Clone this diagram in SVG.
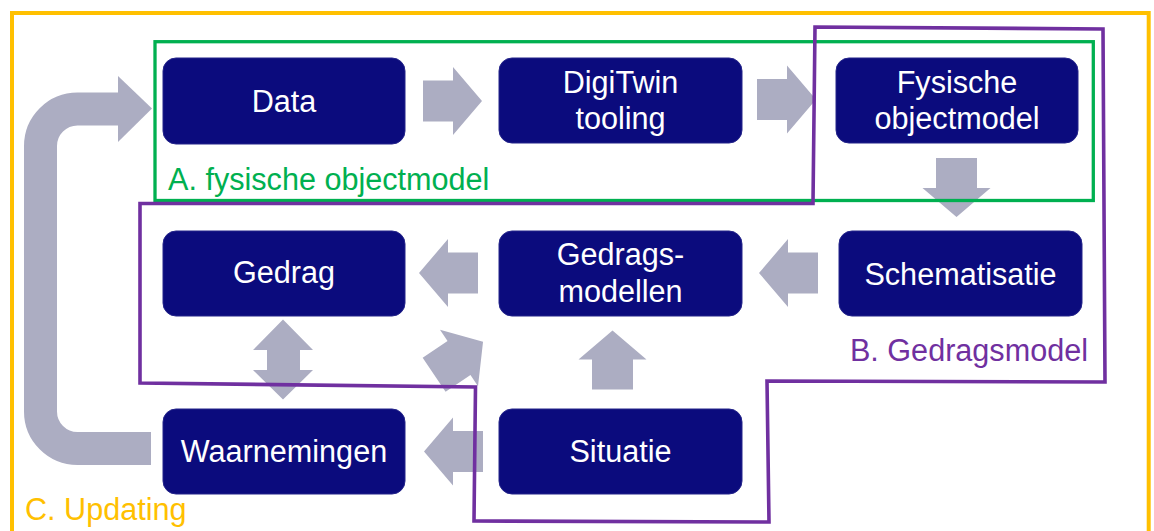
<svg xmlns="http://www.w3.org/2000/svg" width="1154" height="531" viewBox="0 0 1154 531">
  <defs>
    <style>
      .node { fill: #0B0B7D; stroke: #24248a; stroke-width: 1; }
      .nt { font-family: "Liberation Sans", Arial, sans-serif; font-size: 30.6px; fill: #FFFFFF; text-anchor: middle; }
      .arrow { fill: #ACADC2; }
      .lbl { font-family: "Liberation Sans", Arial, sans-serif; font-size: 30.6px; }
    </style>
    <path id="arr" d="M -30 -20.5 H 0 V -34 L 29 0 L 0 34 V 20.5 H -30 Z"/>
  </defs>
  <rect width="1154" height="531" fill="#FFFFFF"/>

  <!-- Frame C -->
  <rect x="12" y="13" width="1136.7" height="560" fill="none" stroke="#FFC000" stroke-width="4"/>

  <!-- Connectors -->
  <g id="connectors" class="arrow">
    <use href="#arr" transform="translate(453,101)"/>
    <use href="#arr" transform="translate(787,99.5)"/>
    <use href="#arr" transform="translate(956.5,188) rotate(90)"/>
    <use href="#arr" transform="translate(788,273) rotate(180)"/>
    <use href="#arr" transform="translate(448,273) rotate(180)"/>
    <use href="#arr" transform="translate(612.5,359.5) rotate(-90)"/>
    <use href="#arr" transform="translate(453,451.5) rotate(180)"/>
    <use href="#arr" transform="translate(459,358) rotate(-34)"/>
    <path d="M 283 319.5 L 313 350 H 300 V 370 H 313 L 283 399.5 L 253 370 H 267 V 350 H 253 Z"/>
    <path d="M 151 448.5 H 77.5 A 37 37 0 0 1 40.5 411.5 V 146 A 37 37 0 0 1 77.5 109 H 119" fill="none" stroke="#ACADC2" stroke-width="33"/>
    <path d="M 118 76 L 152 108.5 L 118 142 Z"/>
  </g>

  <!-- Nodes -->
  <g id="node-data">
    <rect class="node" x="163" y="58" width="242" height="86" rx="13"/>
    <text class="nt" x="284" y="112">Data</text>
  </g>
  <g id="node-digitwin">
    <rect class="node" x="499" y="58" width="243" height="85" rx="13"/>
    <text class="nt" x="620.5" y="93">DigiTwin</text>
    <text class="nt" x="620.5" y="129">tooling</text>
  </g>
  <g id="node-fysische">
    <rect class="node" x="836" y="58" width="242" height="85" rx="13"/>
    <text class="nt" x="957" y="93">Fysische</text>
    <text class="nt" x="957" y="129">objectmodel</text>
  </g>
  <g id="node-gedrag">
    <rect class="node" x="163" y="231" width="242" height="85" rx="13"/>
    <text class="nt" x="284" y="283">Gedrag</text>
  </g>
  <g id="node-gedragsmodellen">
    <rect class="node" x="499" y="231" width="243" height="85" rx="13"/>
    <text class="nt" x="620.5" y="265">Gedrags-</text>
    <text class="nt" x="620.5" y="302">modellen</text>
  </g>
  <g id="node-schematisatie">
    <rect class="node" x="839" y="231" width="243" height="85" rx="13"/>
    <text class="nt" x="960.5" y="285">Schematisatie</text>
  </g>
  <g id="node-waarnemingen">
    <rect class="node" x="163" y="409" width="242" height="85" rx="13"/>
    <text class="nt" x="284" y="462">Waarnemingen</text>
  </g>
  <g id="node-situatie">
    <rect class="node" x="499" y="409" width="243" height="85" rx="13"/>
    <text class="nt" x="620.5" y="462">Situatie</text>
  </g>

  <!-- Group A -->
  <g id="group-a">
    <rect x="155" y="41.7" width="938.3" height="158.8" fill="none" stroke="#00B050" stroke-width="3.3"/>
    <text class="lbl" x="168" y="190" fill="#00B050">A. fysische objectmodel</text>
  </g>

  <!-- Group B -->
  <g id="group-b">
    <path d="M 815 27 L 1103 29 L 1105 382 L 767 381 L 769 522 L 474 521 L 475.5 387 L 140 383 L 140 203.5 L 813 203.5 Z" fill="none" stroke="#7030A0" stroke-width="3.6" stroke-linejoin="miter"/>
    <text class="lbl" x="1088" y="361" fill="#7030A0" text-anchor="end">B. Gedragsmodel</text>
  </g>

  <!-- Group C label -->
  <g id="group-c">
    <text class="lbl" x="25" y="520" fill="#FFC000">C. Updating</text>
  </g>
</svg>
